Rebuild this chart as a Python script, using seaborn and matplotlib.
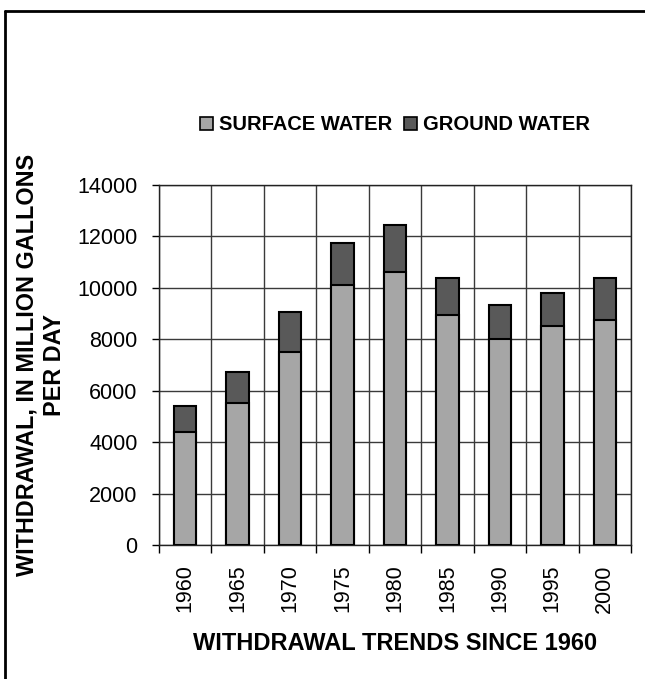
import matplotlib
matplotlib.use("Agg")
import matplotlib.pyplot as plt
from matplotlib.patches import Patch
from matplotlib.lines import Line2D
import numpy as np
import pandas as pd
import seaborn as sns

# Water withdrawals, million gallons per day
years = ["1960", "1965", "1970", "1975", "1980", "1985", "1990", "1995", "2000"]
surface_water = [4400, 5520, 7500, 10110, 10630, 8940, 8010, 8520, 8750]
ground_water = [1000, 1200, 1570, 1650, 1800, 1440, 1310, 1290, 1620]
y_ticks = [0, 2000, 4000, 6000, 8000, 10000, 12000, 14000]

surface_color = "#a6a6a6"
ground_color = "#595959"

sns.set_theme(style="white")
plt.rcParams["font.family"] = ["Liberation Sans", "DejaVu Sans"]
plt.rcParams["text.color"] = "black"
plt.rcParams["axes.labelcolor"] = "black"
plt.rcParams["xtick.color"] = "black"
plt.rcParams["ytick.color"] = "black"

df = pd.DataFrame({
    "year": years,
    "surface": surface_water,
    "total": np.add(surface_water, ground_water),
})

fig = plt.figure(figsize=(6.45, 6.79), dpi=100)
ax = fig.add_axes([159 / 645, 1 - 545 / 679, 472 / 645, 360 / 679])

# Stacked bars: the full total in the ground-water colour, surface water over it
sns.barplot(data=df, x="year", y="total", color=ground_color, width=0.43,
            edgecolor="black", linewidth=1.5, saturation=1, ax=ax, zorder=3)
sns.barplot(data=df, x="year", y="surface", color=surface_color, width=0.43,
            edgecolor="black", linewidth=1.5, saturation=1, ax=ax, zorder=4)

ax.set_xlim(-0.5, len(years) - 0.5)
ax.set_ylim(0, 14000)
ax.set_yticks(y_ticks)
ax.set_yticklabels([str(v) for v in y_ticks], fontsize=15.5)

# Category labels at bar centres, tick marks and gridlines on category boundaries
ax.set_xticks(range(len(years)))
ax.set_xticklabels(years, rotation=90, fontsize=15.5)
ax.set_xticks(np.arange(-0.5, len(years), 1.0), minor=True)
ax.tick_params(axis="x", which="major", length=0, pad=14)
ax.tick_params(axis="x", which="minor", length=6, width=1, color="black",
               direction="out", bottom=True)
ax.tick_params(axis="y", which="major", length=5, width=1, color="black",
               direction="out", left=True, pad=10.5)

ax.grid(False)
ax.yaxis.grid(True, which="major", color="#3a3a3a", linewidth=1, zorder=0)
ax.xaxis.grid(True, which="minor", color="#3a3a3a", linewidth=1, zorder=0)
ax.set_axisbelow(True)

for side in ["left", "bottom", "top", "right"]:
    ax.spines[side].set_visible(True)
    ax.spines[side].set_color("#222222")
    ax.spines[side].set_linewidth(1)

ax.set_xlabel("WITHDRAWAL TRENDS SINCE 1960", fontsize=17, fontweight="bold",
              color="black")
ax.xaxis.set_label_coords(0.5, -0.243)
ax.set_ylabel("WITHDRAWAL, IN MILLION GALLONS\nPER DAY", fontsize=16.8,
              fontweight="bold", linespacing=1.25, color="black")
ax.yaxis.set_label_coords(-0.197, 0.5)

handles = [
    Patch(facecolor=surface_color, edgecolor="black", linewidth=1.2, label="SURFACE WATER"),
    Patch(facecolor=ground_color, edgecolor="black", linewidth=1.2, label="GROUND WATER"),
]
fig.legend(handles=handles, loc="center", bbox_to_anchor=(395 / 645, 1 - 125 / 679),
           ncol=2, frameon=False, handlelength=0.65, handleheight=0.65,
           handletextpad=0.3, columnspacing=0.55,
           prop={"size": 14.5, "weight": "bold"})

# Outer frame (left and top edges)
fig.add_artist(Line2D([4.5 / 645, 4.5 / 645], [0, 1 - 10.5 / 679],
                      transform=fig.transFigure, color="black", linewidth=2))
fig.add_artist(Line2D([4.5 / 645, 1], [1 - 10.5 / 679, 1 - 10.5 / 679],
                      transform=fig.transFigure, color="black", linewidth=2))

fig.savefig("out.png", dpi=100, facecolor="white")
